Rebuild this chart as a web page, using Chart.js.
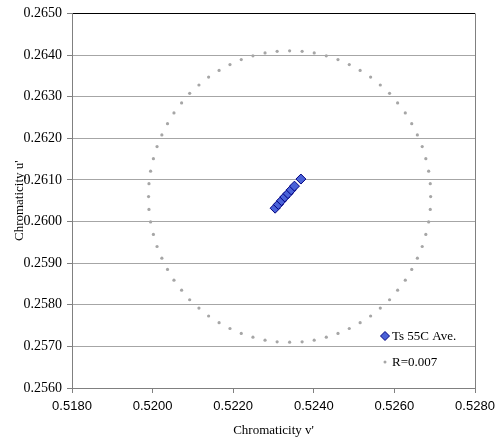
<!DOCTYPE html>
<html>
<head>
<meta charset="utf-8">
<script src="https://cdn.jsdelivr.net/npm/chart.js@4/dist/chart.umd.min.js"></script>
<style>
  html, body { margin: 0; padding: 0; background: #fff; }
  #wrap { width: 503px; height: 441px; }
</style>
</head>
<body>
<div id="wrap"><canvas id="chroma"></canvas></div>
<script>
// Ts 55C average chromaticity (v', u')
const aveLabel = 'Ts 55C Ave.'
const aveV = [0.52304, 0.52312, 0.52320, 0.52328, 0.52336, 0.52344, 0.52352, 0.52368]
const aveU = [0.26032, 0.26041, 0.26050, 0.26059, 0.26067, 0.26076, 0.26085, 0.26102]

// tolerance circle, dots every 5 degrees
const circleLabel = 'R=0.007'
const circleV = [
  0.52690, 0.52689, 0.52685, 0.52678, 0.52669, 0.52657, 0.52643, 0.52627, 0.52608, 0.52588,
  0.52565, 0.52541, 0.52515, 0.52488, 0.52460, 0.52431, 0.52401, 0.52371, 0.52340,
  0.52309, 0.52279, 0.52249, 0.52220, 0.52192, 0.52165, 0.52139, 0.52115, 0.52092,
  0.52072, 0.52053, 0.52037, 0.52023, 0.52011, 0.52002, 0.51995, 0.51991, 0.51990,
  0.51991, 0.51995, 0.52002, 0.52011, 0.52023, 0.52037, 0.52053, 0.52072, 0.52092,
  0.52115, 0.52139, 0.52165, 0.52192, 0.52220, 0.52249, 0.52279, 0.52309, 0.52340,
  0.52371, 0.52401, 0.52431, 0.52460, 0.52488, 0.52515, 0.52541, 0.52565, 0.52588,
  0.52608, 0.52627, 0.52643, 0.52657, 0.52669, 0.52678, 0.52685, 0.52689
]
const circleU = [
  0.26060, 0.26091, 0.26121, 0.26151, 0.26180, 0.26208, 0.26235, 0.26261, 0.26285, 0.26308,
  0.26328, 0.26347, 0.26363, 0.26377, 0.26389, 0.26398, 0.26405, 0.26409, 0.26410,
  0.26409, 0.26405, 0.26398, 0.26389, 0.26377, 0.26363, 0.26347, 0.26328, 0.26308,
  0.26285, 0.26261, 0.26235, 0.26208, 0.26180, 0.26151, 0.26121, 0.26091, 0.26060,
  0.26029, 0.25999, 0.25969, 0.25940, 0.25912, 0.25885, 0.25859, 0.25835, 0.25812,
  0.25792, 0.25773, 0.25757, 0.25743, 0.25731, 0.25722, 0.25715, 0.25711, 0.25710,
  0.25711, 0.25715, 0.25722, 0.25731, 0.25743, 0.25757, 0.25773, 0.25792, 0.25812,
  0.25835, 0.25859, 0.25885, 0.25912, 0.25940, 0.25969, 0.25999, 0.26029
]

const xMin = 0.518, xMax = 0.528, xStep = 0.002
const yMin = 0.256, yMax = 0.265, yStep = 0.001

const toPoints = (xs, ys) => xs.map((x, i) => ({ x: x, y: ys[i] }))

const serif = 'Liberation Serif, Times New Roman, serif'
const sans = 'Liberation Sans, Arial, sans-serif'

// legend drawn inside the plot, bottom right, like the original
const insideLegend = {
  id: 'insideLegend',
  afterDraw (chart) {
    const { ctx, chartArea } = chart
    const ds = chart.data.datasets
    const x = chartArea.right - 90
    const rows = [chartArea.bottom - 52, chartArea.bottom - 26]
    ctx.save()
    ctx.font = '13px ' + serif
    ctx.textBaseline = 'middle'
    // diamond
    ctx.beginPath()
    ctx.moveTo(x, rows[0] - 4.5)
    ctx.lineTo(x + 4.5, rows[0])
    ctx.lineTo(x, rows[0] + 4.5)
    ctx.lineTo(x - 4.5, rows[0])
    ctx.closePath()
    ctx.fillStyle = ds[0].backgroundColor
    ctx.fill()
    ctx.strokeStyle = ds[0].borderColor
    ctx.lineWidth = 1
    ctx.stroke()
    ctx.fillStyle = '#000'
    ctx.fillText(ds[0].label, x + 7, rows[0] + 1)
    // dot
    ctx.beginPath()
    ctx.arc(x, rows[1], 1.5, 0, Math.PI * 2)
    ctx.fillStyle = ds[1].backgroundColor
    ctx.fill()
    ctx.fillStyle = '#000'
    ctx.fillText(ds[1].label, x + 7, rows[1] + 1)
    ctx.restore()
  }
}

new Chart(document.getElementById('chroma').getContext('2d'), {
  type: 'scatter',
  data: {
    datasets: [
      {
        label: aveLabel,
        data: toPoints(aveV, aveU),
        pointStyle: 'rectRot',
        pointRadius: 5,
        backgroundColor: '#4a62d8',
        borderColor: '#000080',
        borderWidth: 1
      },
      {
        label: circleLabel,
        data: toPoints(circleV, circleU),
        pointStyle: 'circle',
        pointRadius: 1.6,
        backgroundColor: '#a6a6a6',
        borderColor: '#a6a6a6',
        borderWidth: 0
      }
    ]
  },
  options: {
    responsive: true,
    maintainAspectRatio: false,
    animation: false,
    layout: { padding: { top: 13, right: 28, bottom: 0, left: 0 } },
    plugins: {
      legend: { display: false },
      tooltip: { enabled: false }
    },
    scales: {
      x: {
        type: 'linear',
        min: xMin,
        max: xMax,
        afterFit (scale) { scale.height = 53 },
        ticks: {
          stepSize: xStep,
          color: '#000',
          font: { family: sans, size: 13 },
          padding: 6,
          maxRotation: 0,
          callback: v => v.toFixed(4)
        },
        grid: {
          drawTicks: true,
          tickLength: 5,
          tickColor: '#808080',
          color: ctx => (ctx.index === ctx.chart.scales.x.ticks.length - 1 ? '#808080' : 'rgba(0,0,0,0)')
        },
        border: { color: '#808080' },
        title: {
          display: true,
          text: "Chromaticity v'",
          color: '#000',
          font: { family: serif, size: 13 },
          padding: { top: 0, bottom: 3 }
        }
      },
      y: {
        type: 'linear',
        min: yMin,
        max: yMax,
        afterFit (scale) { scale.width = 72 },
        ticks: {
          stepSize: yStep,
          color: '#000',
          font: { family: serif, size: 14 },
          padding: 5,
          callback: v => v.toFixed(4)
        },
        grid: {
          drawTicks: true,
          tickLength: 5,
          tickColor: '#808080',
          color: ctx => (ctx.index === ctx.chart.scales.y.ticks.length - 1 ? '#000' : '#a6a6a6')
        },
        border: { color: '#808080' },
        title: {
          display: true,
          text: "Chromaticity u'",
          color: '#000',
          font: { family: serif, size: 13 },
          padding: { top: 12, bottom: 0 }
        }
      }
    }
  },
  plugins: [insideLegend]
})
</script>
</body>
</html>
